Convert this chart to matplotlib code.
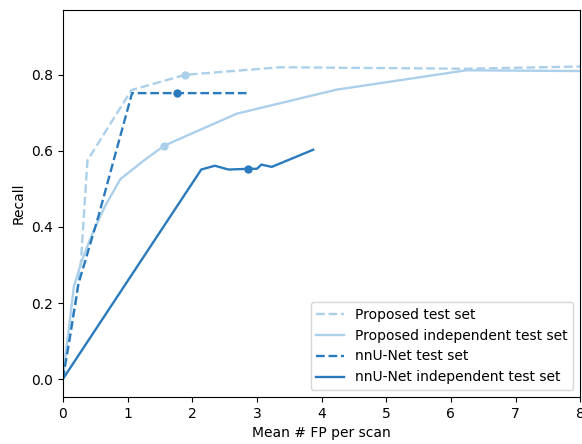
import matplotlib
matplotlib.use('Agg')
import matplotlib.pyplot as plt

# FROC-style curves
prop_test_x = [0, 0.07, 0.2, 0.28, 0.38, 1.06, 1.89, 3.36, 6.24, 8.0]
prop_test_y = [0, 0.10, 0.20, 0.31, 0.575, 0.76, 0.80, 0.82, 0.816, 0.822]
prop_test_mark = 6

prop_ind_x = [0, 0.07, 0.17, 0.29, 0.45, 0.65, 0.89, 1.27, 1.57, 2.69, 4.23, 6.24, 8.0]
prop_ind_y = [0, 0.10, 0.243, 0.31, 0.38, 0.454, 0.526, 0.577, 0.614, 0.698, 0.761, 0.812, 0.81]
prop_ind_mark = 8

nn_test_x = [0, 0.11, 0.24, 0.55, 0.83, 1.07, 1.76, 2.84]
nn_test_y = [0, 0.11, 0.25, 0.428, 0.603, 0.752, 0.752, 0.752]
nn_test_mark = 6

nn_ind_x = [0, 2.14, 2.35, 2.56, 2.87, 3.0, 3.07, 3.23, 3.87]
nn_ind_y = [0, 0.551, 0.561, 0.551, 0.553, 0.553, 0.564, 0.558, 0.603]
nn_ind_mark = 4

light = '#acd0ea'
dark = '#2a7bbd'

fig = plt.figure(figsize=(5.82, 4.44), dpi=100)
ax = fig.add_axes([0.108, 0.106, 0.889, 0.871])

series = [
    (prop_test_x, prop_test_y, prop_test_mark, '--', light, 'Proposed test set'),
    (prop_ind_x, prop_ind_y, prop_ind_mark, '-', light, 'Proposed independent test set'),
    (nn_test_x, nn_test_y, nn_test_mark, '--', dark, 'nnU-Net test set'),
    (nn_ind_x, nn_ind_y, nn_ind_mark, '-', dark, 'nnU-Net independent test set'),
]
for xs, ys, m, ls, c, lab in series:
    ax.plot(xs, ys, ls, color=c, lw=1.7, label=lab)
    # operating point marker, kept out of the legend
    ax.plot(xs[m], ys[m], 'o', color=c, ms=5)

ax.set_xlim(0, 8)
ax.set_ylim(-0.047, 0.97)
ax.set_yticks([0.0, 0.2, 0.4, 0.6, 0.8])
ax.set_xlabel('Mean # FP per scan', fontsize=10)
ax.set_ylabel('Recall', fontsize=10)
ax.tick_params(labelsize=10)
ax.legend(loc='lower right', fontsize=10, handlelength=2)

fig.savefig('out.png', dpi=100)
